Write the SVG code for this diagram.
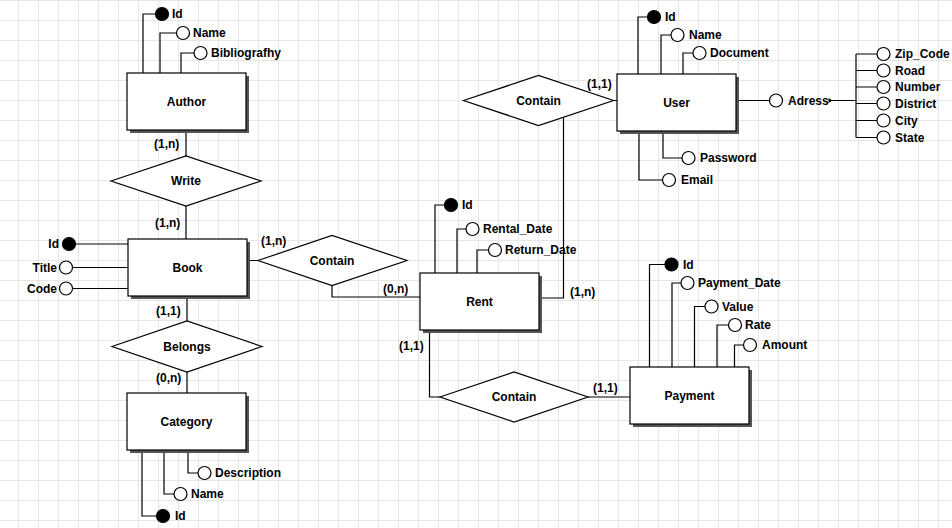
<svg xmlns="http://www.w3.org/2000/svg" width="952" height="528" viewBox="0 0 952 528">
<style>
text{font-family:"Liberation Sans",Arial,sans-serif;font-size:12px;font-weight:bold;fill:#000}
.c{text-anchor:middle}
.e{text-anchor:end}
.ent{fill:#fff;stroke:#000;stroke-width:1.2}
.sh{fill:#555}
.rel{fill:#fff;stroke:#000;stroke-width:1.2}
.ln{fill:none;stroke:#000;stroke-width:1.2}
.at{fill:#fff;stroke:#000;stroke-width:1.2}
.pk{fill:#000;stroke:#000;stroke-width:1.2}
</style>
<defs>
<pattern id="grid" x="18" y="20" width="20" height="20" patternUnits="userSpaceOnUse">
<path d="M0 0.5H20M0.5 0V20" fill="none" stroke="#e6e6e6" stroke-width="1"/>
</pattern>
</defs>
<rect width="952" height="528" fill="#fff"/>
<rect width="952" height="528" fill="url(#grid)"/>

<g id="connectors">
<path class="ln" d="M186 130V156M186 206V239"/>
<path class="ln" d="M247 260.5H258M332 285.5V297H420"/>
<path class="ln" d="M187 296V321M187 372V393"/>
<path class="ln" d="M539 298H563.5V117M613.5 100.5H617"/>
<path class="ln" d="M429.5 330V397H440M588 397H630"/>
<!-- attribute links -->
<path class="ln" d="M143 73V14H155.5M160 73V33H176.5M181 73V53H194"/>
<path class="ln" d="M75.5 244H128M72.5 267.5H128M72.5 288.5H128"/>
<path class="ln" d="M142 450V516H156.5M164 450V494H174M188 450V473H198"/>
<path class="ln" d="M435 273V205H444.5M457 273V229H466M477 273V250H488.5"/>
<path class="ln" d="M638 74V17H647.5M661 74V35H671M683 74V53H693"/>
<path class="ln" d="M663 131V158H682M639 131V180H662.5"/>
<path class="ln" d="M736 100.5H769.5M832 100.5H856M856 54V137.5M856 54H877M856 70.5H877M856 87H877M856 103.5H877M856 120.5H877M856 137.5H877"/>
<path d="M828.5 98 L832.5 100.5 L828.5 103Z" fill="#000"/>
<path class="ln" d="M649.5 367V264.5H665M672 367V283H681M694.5 367V306.5H705M717 367V325H728.5M734.5 367V345H743.5"/>
</g>

<g id="labels-cardinality">
<text x="154" y="148">(1,n)</text>
<text x="155" y="227">(1,n)</text>
<text x="156" y="315">(1,1)</text>
<text x="156" y="382">(0,n)</text>
<text x="261" y="245">(1,n)</text>
<text x="383" y="293">(0,n)</text>
<text x="399" y="350">(1,1)</text>
<text x="593" y="392">(1,1)</text>
<text x="570" y="296">(1,n)</text>
<text x="587" y="88">(1,1)</text>
</g>

<g id="write">
<polygon class="rel" points="111,181 186,156 261,181 186,206"/>
<text class="c" x="186" y="185">Write</text>
</g>
<g id="contain-book-rent">
<polygon class="rel" points="258,260.5 332,235.5 407,260.5 332,285.5"/>
<text class="c" x="332" y="265">Contain</text>
</g>
<g id="belongs">
<polygon class="rel" points="112,346.5 187,321 262,346.5 187,372"/>
<text class="c" x="187" y="351">Belongs</text>
</g>
<g id="contain-user-rent">
<polygon class="rel" points="463.5,100.5 538.5,75.5 613.5,100.5 538.5,125.5"/>
<text class="c" x="538.5" y="105">Contain</text>
</g>
<g id="contain-rent-payment">
<polygon class="rel" points="440,397 514,372 588,397 514,422"/>
<text class="c" x="514" y="401">Contain</text>
</g>

<g id="author">
<rect class="sh" x="130" y="76" width="119" height="57"/>
<rect class="ent" x="127" y="73" width="119" height="57"/>
<text class="c" x="186.5" y="106">Author</text>
<circle class="pk" cx="162" cy="14" r="6.5"/><text x="172" y="18">Id</text>
<circle class="at" cx="183" cy="33" r="6.5"/><text x="193" y="37">Name</text>
<circle class="at" cx="200.5" cy="53" r="6.5"/><text x="211" y="57">Bibliografhy</text>
</g>

<g id="book">
<rect class="sh" x="131" y="242" width="119" height="57"/>
<rect class="ent" x="128" y="239" width="119" height="57"/>
<text class="c" x="187.5" y="272">Book</text>
<circle class="pk" cx="69" cy="244" r="6.5"/><text class="e" x="59" y="248">Id</text>
<circle class="at" cx="66" cy="267.5" r="6.5"/><text class="e" x="57" y="272">Title</text>
<circle class="at" cx="66" cy="288.5" r="6.5"/><text class="e" x="57" y="293">Code</text>
</g>

<g id="category">
<rect class="sh" x="130" y="396" width="119" height="57"/>
<rect class="ent" x="127" y="393" width="119" height="57"/>
<text class="c" x="186.5" y="426">Category</text>
<circle class="at" cx="204.5" cy="473" r="6.5"/><text x="215" y="477">Description</text>
<circle class="at" cx="180.5" cy="494" r="6.5"/><text x="191" y="498">Name</text>
<circle class="pk" cx="163" cy="516" r="6.5"/><text x="175" y="520">Id</text>
</g>

<g id="rent">
<rect class="sh" x="423" y="276" width="119" height="57"/>
<rect class="ent" x="420" y="273" width="119" height="57"/>
<text class="c" x="479.5" y="306">Rent</text>
<circle class="pk" cx="451" cy="205" r="6.5"/><text x="462" y="209">Id</text>
<circle class="at" cx="472.5" cy="229" r="6.5"/><text x="483" y="233">Rental_Date</text>
<circle class="at" cx="495" cy="250" r="6.5"/><text x="505" y="254">Return_Date</text>
</g>

<g id="user">
<rect class="sh" x="620" y="77" width="119" height="57"/>
<rect class="ent" x="617" y="74" width="119" height="57"/>
<text class="c" x="676.5" y="107">User</text>
<circle class="pk" cx="654" cy="17" r="6.5"/><text x="665" y="21">Id</text>
<circle class="at" cx="677.5" cy="35" r="6.5"/><text x="689" y="39">Name</text>
<circle class="at" cx="699.5" cy="53" r="6.5"/><text x="710" y="57">Document</text>
<circle class="at" cx="688.5" cy="158" r="6.5"/><text x="700" y="162">Password</text>
<circle class="at" cx="669" cy="180" r="6.5"/><text x="681" y="184">Email</text>
<circle class="at" cx="776" cy="100.5" r="6.5"/><text x="788" y="105">Adress</text>
<circle class="at" cx="883.5" cy="54" r="6.5"/><text x="895" y="58">Zip_Code</text>
<circle class="at" cx="883.5" cy="70.5" r="6.5"/><text x="895" y="75">Road</text>
<circle class="at" cx="883.5" cy="87" r="6.5"/><text x="895" y="91">Number</text>
<circle class="at" cx="883.5" cy="103.5" r="6.5"/><text x="895" y="108">District</text>
<circle class="at" cx="883.5" cy="120.5" r="6.5"/><text x="895" y="125">City</text>
<circle class="at" cx="883.5" cy="137.5" r="6.5"/><text x="895" y="142">State</text>
</g>

<g id="payment">
<rect class="sh" x="633" y="370" width="119" height="57"/>
<rect class="ent" x="630" y="367" width="119" height="57"/>
<text class="c" x="689.5" y="400">Payment</text>
<circle class="pk" cx="671.5" cy="264.5" r="6.5"/><text x="683" y="268.5">Id</text>
<circle class="at" cx="687.5" cy="283" r="6.5"/><text x="698" y="287">Payment_Date</text>
<circle class="at" cx="711.5" cy="306.5" r="6.5"/><text x="722" y="310.5">Value</text>
<circle class="at" cx="735" cy="325" r="6.5"/><text x="745" y="329">Rate</text>
<circle class="at" cx="750" cy="345" r="6.5"/><text x="762" y="349">Amount</text>
</g>
</svg>
